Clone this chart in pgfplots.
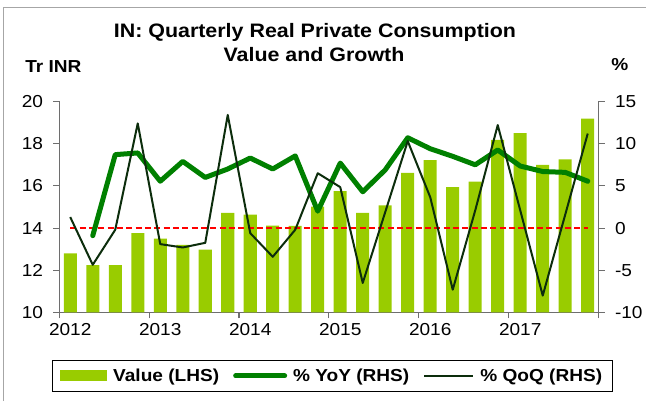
\documentclass[border=0pt]{standalone}
\usepackage{fontspec}
\setmainfont{Liberation Sans}[FakeStretch=1.1]
\usepackage{pgfplots}
\usepackage{pgfplotstable}
\pgfplotsset{compat=1.18}
\definecolor{barcol}{RGB}{153,204,0}
\definecolor{yoycol}{RGB}{0,128,0}
\definecolor{qoqcol}{RGB}{12,45,12}
\definecolor{axcol}{RGB}{110,110,110}

\pgfplotstableread{
x val
2012.125 12.80
2012.375 12.24
2012.625 12.24
2012.875 13.76
2013.125 13.50
2013.375 13.20
2013.625 12.98
2013.875 14.72
2014.125 14.64
2014.375 14.12
2014.625 14.10
2014.875 15.02
2015.125 15.75
2015.375 14.72
2015.625 15.07
2015.875 16.62
2016.125 17.22
2016.375 15.94
2016.625 16.20
2016.875 18.18
2017.125 18.50
2017.375 17.00
2017.625 17.25
2017.875 19.19
}\valtab

\pgfplotstableread{
x yoy
2012.375 -0.9
2012.625 8.7
2012.875 8.9
2013.125 5.55
2013.375 7.9
2013.625 6.0
2013.875 7.0
2014.125 8.3
2014.375 7.0
2014.625 8.55
2014.875 2.0
2015.125 7.7
2015.375 4.3
2015.625 6.9
2015.875 10.7
2016.125 9.4
2016.375 8.5
2016.625 7.5
2016.875 9.25
2017.125 7.35
2017.375 6.7
2017.625 6.6
2017.875 5.55
}\yoytab

\pgfplotstableread{
x qoq
2012.125 1.3
2012.375 -4.35
2012.625 -0.2
2012.875 12.4
2013.125 -1.9
2013.375 -2.3
2013.625 -1.75
2013.875 13.4
2014.125 -0.6
2014.375 -3.4
2014.625 -0.2
2014.875 6.5
2015.125 4.85
2015.375 -6.5
2015.625 1.9
2015.875 10.3
2016.125 3.65
2016.375 -7.3
2016.625 2.1
2016.875 12.2
2017.125 2.1
2017.375 -8.0
2017.625 1.6
2017.875 11.2
}\qoqtab

\pgfplotstableread{
x z
2012.125 0
2017.875 0
}\zerotab

\begin{document}
\begin{tikzpicture}
\path[use as bounding box] (0,0) rectangle (484.5pt,300.75pt);
\draw[gray!70, line width=0.75pt] (2.5pt,0pt) -- (2.5pt,295.3pt) -- (484.5pt,295.3pt);

\node[anchor=base, inner sep=0pt, font=\fontsize{14.6}{17}\selectfont\bfseries] at (236.25pt,272.5pt) {IN: Quarterly Real Private Consumption};
\node[anchor=base, inner sep=0pt, font=\fontsize{14.6}{17}\selectfont\bfseries] at (235.5pt,254.5pt) {Value and Growth};
\node[anchor=base west, inner sep=0pt, font=\fontsize{13}{15}\selectfont\bfseries] at (18.75pt,246.5pt) {Tr INR};
\node[anchor=base west, inner sep=0pt, font=\fontsize{13}{15}\selectfont\bfseries] at (458.25pt,247.5pt) {\%};

\begin{axis}[
  at={(44.25pt,66.4pt)}, anchor=south west,
  width=405pt, height=158.25pt, scale only axis,
  xmin=2012, xmax=2018, ymin=10, ymax=20,
  axis x line*=bottom, axis y line*=left,
  axis line style={axcol, line width=0.75pt, -},
  tick style={axcol, line width=0.75pt},
  tick align=outside, major tick length=4.5pt,
  xtick={2012,2013,2014,2015,2016,2017,2018},
  xticklabels={2012,2013,2014,2015,2016,2017,{}},
  xticklabel style={xshift=8.44pt},
  ytick={10,12,14,16,18,20},
  /pgf/number format/assume math mode=true,
  tick label style={font=\fontsize{13}{15}\selectfont},
  yticklabel style={xshift=-4pt},
  clip=false,
]
\addplot[ybar, bar width=9.75pt, fill=barcol, draw=none] table[x=x,y=val]{\valtab};
\end{axis}

\begin{axis}[
  at={(44.25pt,66.4pt)}, anchor=south west,
  width=405pt, height=158.25pt, scale only axis,
  xmin=2012, xmax=2018, ymin=-10, ymax=15,
  axis x line=none, axis y line*=right,
  axis line style={axcol, line width=0.75pt, -},
  tick style={axcol, line width=0.75pt},
  tick align=outside, major tick length=4.5pt,
  ytick={-10,-5,0,5,10,15},
  /pgf/number format/assume math mode=true,
  tick label style={font=\fontsize{13}{15}\selectfont},
  yticklabel style={xshift=4pt},
  legend columns=3,
  legend cell align=left,
  legend image code/.code={\draw[#1] (0pt,0pt) -- (36.75pt,0pt);},
  legend style={at={(0.5065,-0.301)}, anchor=center, draw=black, line width=0.75pt,
    inner xsep=6pt, inner ysep=4pt,
    font=\fontsize{13}{15}\selectfont\bfseries,
    /tikz/every odd column/.append style={column sep=2.5pt},
    /tikz/every even column/.append style={column sep=8.5pt}},
]
\addlegendimage{legend image code/.code={\fill[barcol] (0pt,-3.75pt) rectangle (34.5pt,3.75pt);}}
\addlegendentry{Value (LHS)}
\addplot[red, line width=1.5pt, dash pattern=on 4.5pt off 2.5pt, forget plot] table[x=x,y=z]{\zerotab};
\addplot[yoycol, line width=3.75pt, line cap=round, line join=round] table[x=x,y=yoy]{\yoytab};
\addlegendentry{\% YoY (RHS)}
\addplot[qoqcol, line width=1.5pt, line join=round] table[x=x,y=qoq]{\qoqtab};
\addlegendentry{\% QoQ (RHS)}
\end{axis}
\end{tikzpicture}
\end{document}
